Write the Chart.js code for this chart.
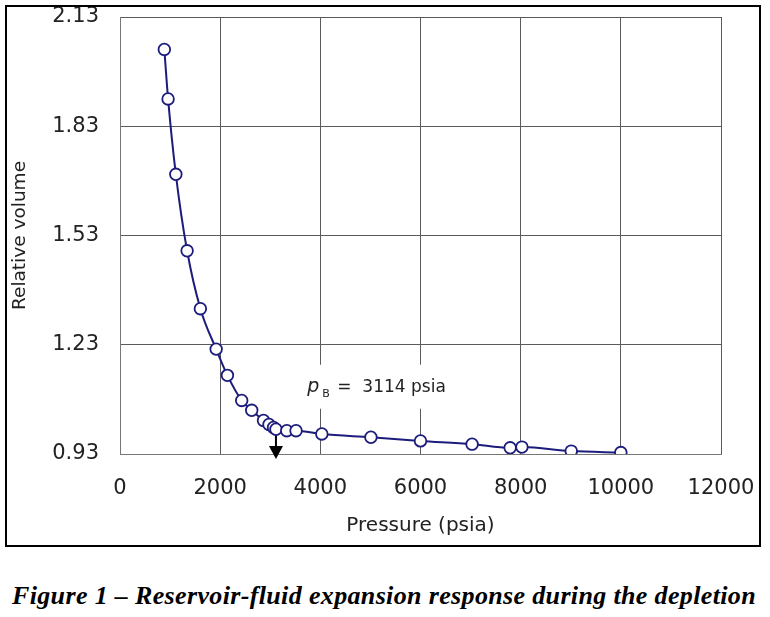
<!DOCTYPE html>
<html>
<head>
<meta charset="utf-8">
<script src="https://cdn.jsdelivr.net/npm/chart.js@4.4.1/dist/chart.umd.min.js"></script>
<style>
  html, body { margin: 0; padding: 0; background: #fff; }
  body { width: 770px; height: 617px; position: relative; overflow: hidden; }
  #wrap { position: absolute; left: 0; top: 0; width: 770px; height: 550px; }
  #frame { position: absolute; left: 5px; top: 5px; width: 752px; height: 538px;
           border: 2px solid #000; pointer-events: none; }
  #caption { position: absolute; left: 12px; top: 581px; line-height: 26px; white-space: nowrap;
             letter-spacing: 0.35px;
             font: italic bold 26px "Liberation Serif", "Times New Roman", serif; color: #000; }
</style>
</head>
<body>
<div id="wrap"><canvas id="myChart" width="770" height="550"></canvas></div>
<div id="frame"></div>
<div id="caption">Figure 1 – Reservoir-fluid expansion response during the depletion</div>
<script>
// pressure (psia) and relative volume
const pressure = [885, 960, 1115, 1340, 1605, 1920, 2145, 2430, 2630, 2865, 2975, 3065, 3114,
                  3330, 3515, 4030, 5010, 6000, 7030, 7790, 8025, 9010, 10000]
const relVolume = [2.041, 1.905, 1.698, 1.488, 1.329, 1.218, 1.146, 1.077, 1.050, 1.022, 1.011, 1.003, 0.998,
                   0.994, 0.994, 0.985, 0.976, 0.966, 0.957, 0.947, 0.949, 0.938, 0.934]
const yTicks = [0.93, 1.23, 1.53, 1.83, 2.13]
const xTicks = [0, 2000, 4000, 6000, 8000, 10000, 12000]
const bubblePoint = 3114
const labelAt = { x: 3740, y: 1.101 }

const navy = '#1c1c7c'
const tickFont = { family: 'DejaVu Sans', size: 21 }

// pB label with white box + arrow down to the axis
const pbNote = {
  id: 'pbNote',
  beforeDatasetsDraw(chart) {
    const { ctx, scales: { x, y } } = chart
    const lx = x.getPixelForValue(labelAt.x), ly = y.getPixelForValue(labelAt.y)
    ctx.save()
    ctx.fillStyle = '#fff'
    ctx.fillRect(lx - 7, ly - 27, 147, 44)
    ctx.fillStyle = '#222'
    ctx.textBaseline = 'alphabetic'
    ctx.font = 'italic 19px "DejaVu Sans"'
    ctx.fillText('p', lx, ly)
    ctx.font = '11px "DejaVu Sans"'
    ctx.fillText('B', lx + 15, ly + 5)
    ctx.font = '17px "DejaVu Sans"'
    ctx.fillText('=  3114 psia', lx + 30, ly)

    const ax = x.getPixelForValue(bubblePoint)
    const top = y.getPixelForValue(relVolume[pressure.indexOf(bubblePoint)])
    const bot = y.getPixelForValue(yTicks[0])
    ctx.strokeStyle = '#000'
    ctx.lineWidth = 2
    ctx.beginPath(); ctx.moveTo(ax, top); ctx.lineTo(ax, bot - 7); ctx.stroke()
    ctx.fillStyle = '#000'
    ctx.beginPath()
    ctx.moveTo(ax - 7, bot - 8); ctx.lineTo(ax + 7, bot - 8); ctx.lineTo(ax, bot + 5)
    ctx.closePath(); ctx.fill()
    ctx.restore()
  }
}

const noPad = s => { s.paddingTop = 0; s.paddingBottom = 0; s.paddingLeft = 0; s.paddingRight = 0 }

new Chart(document.getElementById('myChart'), {
  type: 'scatter',
  data: {
    datasets: [{
      data: pressure.map((p, i) => ({ x: p, y: relVolume[i] })),
      showLine: true,
      borderColor: navy,
      borderWidth: 2,
      cubicInterpolationMode: 'monotone',
      pointRadius: 5.8,
      pointBorderWidth: 1.8,
      pointBackgroundColor: '#fff',
      pointBorderColor: navy
    }]
  },
  options: {
    responsive: false,
    animation: false,
    layout: { padding: { top: 17, right: 49, left: 0, bottom: 0 } },
    plugins: { legend: { display: false }, tooltip: { enabled: false } },
    scales: {
      x: {
        type: 'linear', min: 0, max: 12000,
        afterFit: s => { s.height = 96; noPad(s) },
        afterBuildTicks: s => { s.ticks = xTicks.map(v => ({ value: v })) },
        grid: { color: '#5a5a5a', lineWidth: 1, drawTicks: false },
        border: { color: '#777', width: 1 },
        ticks: { font: tickFont, color: '#222', padding: 22, maxRotation: 0, callback: v => String(v) },
        title: { display: true, text: 'Pressure (psia)', color: '#222',
                 font: { family: 'DejaVu Sans', size: 20 }, padding: { bottom: 12 } }
      },
      y: {
        type: 'linear', min: 0.93, max: 2.13,
        afterFit: s => { s.width = 120; noPad(s) },
        afterBuildTicks: s => { s.ticks = yTicks.map(v => ({ value: v })) },
        grid: { color: '#5a5a5a', lineWidth: 1, drawTicks: false },
        border: { color: '#777', width: 1 },
        ticks: { font: tickFont, color: '#222', padding: 21, callback: v => v.toFixed(2) },
        title: { display: true, text: 'Relative volume', color: '#222',
                 font: { family: 'DejaVu Sans', size: 18.5 }, padding: { top: 9 } }
      }
    }
  },
  plugins: [pbNote]
})
</script>
</body>
</html>
